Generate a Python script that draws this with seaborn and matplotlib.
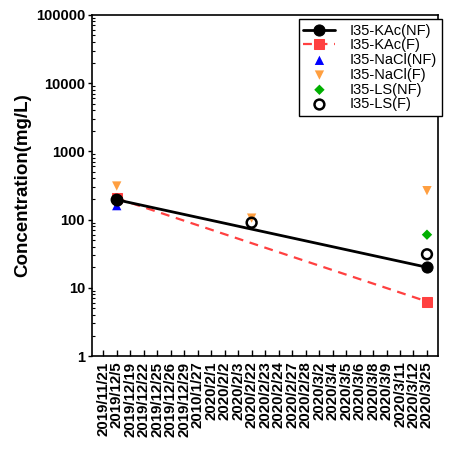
import matplotlib
matplotlib.use("Agg")
import matplotlib.pyplot as plt
import seaborn as sns
import pandas as pd
import numpy as np
from matplotlib.ticker import LogLocator, NullFormatter

sns.set_style("ticks")
plt.rcParams['font.family'] = ['Liberation Sans', 'DejaVu Sans']
plt.rcParams['text.color'] = 'black'
plt.rcParams['axes.labelcolor'] = 'black'
plt.rcParams['xtick.color'] = 'black'
plt.rcParams['ytick.color'] = 'black'

dates = ["2019/11/21", "2019/12/5", "2019/12/19", "2019/12/22", "2019/12/25",
         "2019/12/26", "2019/12/29", "2010/1/27", "2020/2/1", "2020/2/2",
         "2020/2/3", "2020/2/22", "2020/2/23", "2020/2/24", "2020/2/27",
         "2020/2/28", "2020/3/2", "2020/3/4", "2020/3/5", "2020/3/6",
         "2020/3/8", "2020/3/9", "2020/3/11", "2020/3/12", "2020/3/25"]

kac_nf_dates = ["2019/12/5", "2020/3/25"]
kac_nf_vals = [195, 20]
kac_f_dates = ["2019/12/5", "2020/3/25"]
kac_f_vals = [205, 6.3]
nacl_nf_dates = ["2019/12/5"]
nacl_nf_vals = [160]
nacl_f_dates = ["2019/12/5", "2020/2/22", "2020/3/25"]
nacl_f_vals = [310, 105, 265]
ls_nf_dates = ["2020/3/25"]
ls_nf_vals = [60]
ls_f_dates = ["2019/12/5", "2020/2/22", "2020/3/25"]
ls_f_vals = [195, 90, 31]

pos = {d: i for i, d in enumerate(dates)}

def frame(ds, vs):
    return pd.DataFrame({"x": [pos[d] for d in ds], "y": vs})

fig = plt.figure(figsize=(4.49, 4.49), dpi=100)
ax = fig.add_axes([0.205, 0.207, 0.770, 0.760])

sns.lineplot(data=frame(kac_nf_dates, kac_nf_vals), x="x", y="y", ax=ax,
             color="black", lw=2, marker="o", markersize=8, markeredgecolor="black",
             label="I35-KAc(NF)", zorder=5)
sns.lineplot(data=frame(kac_f_dates, kac_f_vals), x="x", y="y", ax=ax,
             color="#ff4040", lw=1.6, linestyle=(0, (4, 3)), marker="s", markersize=7,
             markeredgecolor="#ff4040", label="I35-KAc(F)", zorder=3)
sns.scatterplot(data=frame(nacl_nf_dates, nacl_nf_vals), x="x", y="y", ax=ax,
                color="#0000ff", marker="^", s=45, edgecolor="none",
                label="I35-NaCl(NF)", zorder=2)
sns.scatterplot(data=frame(nacl_f_dates, nacl_f_vals), x="x", y="y", ax=ax,
                color="#ff9f40", marker="v", s=45, edgecolor="none",
                label="I35-NaCl(F)", zorder=4)
sns.scatterplot(data=frame(ls_nf_dates, ls_nf_vals), x="x", y="y", ax=ax,
                color="#00b000", marker="D", s=28, edgecolor="none",
                label="I35-LS(NF)", zorder=4)
sns.scatterplot(data=frame(ls_f_dates, ls_f_vals), x="x", y="y", ax=ax,
                facecolor="none", marker="o", s=50, edgecolor="black", linewidth=1.8,
                label="I35-LS(F)", zorder=4)

ax.set_yscale("log")
ax.set_ylim(1, 100000)
ax.set_xlim(-0.83, 24.8)
ax.set_xticks(range(len(dates)))
ax.set_xticklabels(dates, rotation=90, fontsize=10.8, fontweight="bold")
ax.yaxis.set_minor_locator(LogLocator(base=10, subs=np.arange(2, 10), numticks=10))
ax.yaxis.set_minor_formatter(NullFormatter())
ax.set_yticks([1, 10, 100, 1000, 10000, 100000])
ax.set_yticklabels(["1", "10", "100", "1000", "10000", "100000"], fontsize=10.5, fontweight="bold")
ax.tick_params(axis="x", which="major", direction="in", length=4, width=1, pad=4)
ax.tick_params(axis="y", which="major", direction="out", length=3, width=1, pad=2)
ax.tick_params(axis="y", which="minor", direction="in", length=2.5, width=0.8)
ax.set_xlabel("")
ax.set_ylabel("Concentration(mg/L)", fontsize=13.5, fontweight="bold", labelpad=3)
for s in ax.spines.values():
    s.set_visible(True)
    s.set_color("black")
    s.set_linewidth(1.2)

leg = ax.legend(loc="upper right", bbox_to_anchor=(0.9837, 0.957),
                bbox_transform=fig.transFigure, fontsize=10.5, frameon=True,
                fancybox=False, edgecolor="black", framealpha=1, borderpad=0.3,
                labelspacing=0.05, handlelength=2.2, handletextpad=1.0,
                borderaxespad=0)
leg.get_frame().set_linewidth(1.0)

fig.savefig("out.png", dpi=100)
